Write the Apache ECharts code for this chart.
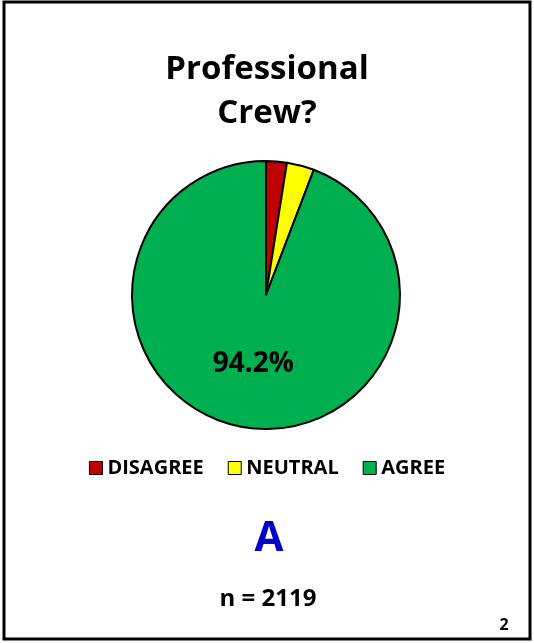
<!DOCTYPE html>
<html>
<head>
<meta charset="utf-8">
<script src="https://cdn.jsdelivr.net/npm/echarts@6/dist/echarts.min.js"></script>
<style>
  html, body { margin: 0; padding: 0; background: #fff; }
  #chart { width: 534px; height: 643px; }
</style>
</head>
<body>
<div id="chart"></div>
<script>
var categories = ['DISAGREE', 'NEUTRAL', 'AGREE'];
var values = [2.5, 3.3, 94.2];
var colors = ['#c00000', '#ffff00', '#00b050'];
var sampleSize = 2119;

var font = '"Open Sans", sans-serif';
var chart = echarts.init(document.getElementById('chart'));

var option = {
    backgroundColor: '#fff',
    animation: false,
    title: {
        text: 'Professional\nCrew?',
        left: 'center',
        top: 43,
        textStyle: {
            fontFamily: font,
            fontWeight: 'bold',
            fontSize: 33,
            lineHeight: 44,
            color: '#000'
        }
    },
    legend: {
        data: categories,
        top: 453,
        left: 'center',
        itemWidth: 13,
        itemHeight: 13,
        itemGap: 24,
        icon: 'rect',
        itemStyle: { borderColor: '#000', borderWidth: 1 },
        textStyle: {
            fontFamily: font,
            fontWeight: 'bold',
            fontSize: 20,
            color: '#000'
        }
    },
    graphic: [
        {
            type: 'rect',
            shape: { x: 4, y: 2, width: 526, height: 637 },
            style: { fill: 'none', stroke: '#000', lineWidth: 3 }
        },
        {
            type: 'text',
            x: 269, y: 539,
            style: {
                text: 'A', fill: '#0000cc', font: 'bold 42px ' + font,
                textAlign: 'center', textVerticalAlign: 'middle'
            }
        },
        {
            type: 'text',
            x: 268, y: 599,
            style: {
                text: 'n = ' + sampleSize, fill: '#000', font: 'bold 24px ' + font,
                textAlign: 'center', textVerticalAlign: 'middle'
            }
        },
        {
            type: 'text',
            x: 504, y: 625,
            style: {
                text: '2', fill: '#000', font: 'bold 16px ' + font,
                textAlign: 'center', textVerticalAlign: 'middle'
            }
        }
    ],
    series: [
        {
            type: 'pie',
            center: [266, 295],
            radius: 134,
            startAngle: 90,
            clockwise: true,
            itemStyle: { borderColor: '#000', borderWidth: 2 },
            label: {
                position: 'inside',
                fontFamily: font,
                fontWeight: 'bold',
                fontSize: 28,
                color: '#000',
                formatter: function (p) {
                    return p.name === 'AGREE' ? p.value.toFixed(1) + '%' : '';
                }
            },
            labelLine: { show: false },
            emphasis: { disabled: true },
            data: categories.map(function (c, i) {
                return { name: c, value: values[i], itemStyle: { color: colors[i] } };
            })
        }
    ]
};
chart.setOption(option);
</script>
</body>
</html>
